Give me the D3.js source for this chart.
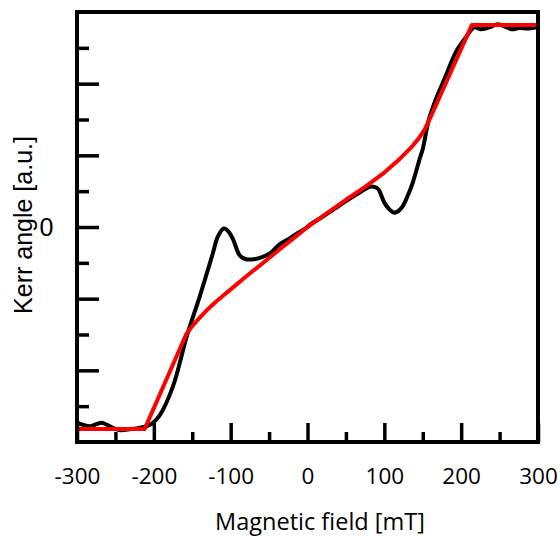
<!DOCTYPE html>
<html>
<head>
<meta charset="utf-8">
<script src="https://cdn.jsdelivr.net/npm/d3@7"></script>
<style>
  body { margin: 0; background: #fff; }
  svg { display: block; }
</style>
</head>
<body>
<script>
// measured Kerr signal (black) and model fit (red), field in mT, Kerr angle in arb. units
var fieldMeasured = [-300, -283, -268, -254, -244, -230, -218, -205, -192, -175, -157, -140, -123, -117, -109, -103, -97, -88, -80, -70, -62, -49, -36, -25, -15, -4, 7, 18, 29, 40, 50, 60, 68, 75, 81, 87, 92, 100, 107, 113, 118, 124, 131, 137, 146, 150, 158, 167, 180, 193, 206, 217, 225, 232, 240, 247, 256, 266, 275, 288, 300];
var kerrMeasured = [-2.73, -2.78, -2.73, -2.80, -2.835, -2.82, -2.80, -2.76, -2.62, -2.22, -1.52, -0.96, -0.36, -0.14, -0.02, -0.06, -0.17, -0.40, -0.45, -0.45, -0.43, -0.37, -0.24, -0.17, -0.10, -0.03, 0.06, 0.13, 0.21, 0.29, 0.36, 0.43, 0.48, 0.53, 0.56, 0.56, 0.53, 0.34, 0.24, 0.20, 0.22, 0.29, 0.45, 0.62, 0.95, 1.09, 1.50, 1.78, 2.11, 2.44, 2.645, 2.785, 2.76, 2.77, 2.80, 2.83, 2.80, 2.76, 2.775, 2.77, 2.79];

var fieldFit = [-300, -212, -158, -152, -145, -138, -130, -120, -110, -100, -80, -60, -36, -15, 0, 25, 50, 75, 100, 120, 135, 145, 152, 158, 214, 300];
var kerrFit = [-2.82, -2.82, -1.50, -1.41, -1.32, -1.24, -1.15, -1.05, -0.96, -0.87, -0.69, -0.52, -0.31, -0.13, 0.00, 0.19, 0.38, 0.56, 0.76, 0.95, 1.11, 1.24, 1.35, 1.48, 2.82, 2.82];

var xMajorTicks = [-300, -200, -100, 0, 100, 200, 300];
var xMinorTicks = [-250, -150, -50, 50, 150, 250];
var yMajorTicks = [-2, -1, 0, 1, 2];
var yMinorTicks = [-2.5, -1.5, -0.5, 0.5, 1.5, 2.5];
var yLabelTicks = [0];

var width = 560;
var height = 536;
var margin = {left: 77, right: 22, top: 12, bottom: 94};
var plotW = width - margin.left - margin.right;
var plotH = height - margin.top - margin.bottom;

var svg = d3.select("body").append("svg")
    .attr("width", width)
    .attr("height", height);

var x = d3.scaleLinear().domain([-300, 300]).range([margin.left, margin.left + plotW]);
var y = d3.scaleLinear().domain([-3, 3]).range([margin.top + plotH, margin.top]);

var measured = fieldMeasured.map(function (h, i) { return [h, kerrMeasured[i]]; });
var fit = fieldFit.map(function (h, i) { return [h, kerrFit[i]]; });

// plain hyphen for negatives, like the original
var plainFormat = function (d) { return String(d); };

// curves first, frame on top
var plot = svg.append("g");

plot.append("path")
    .datum(measured)
    .attr("fill", "none")
    .attr("stroke", "#000")
    .attr("stroke-width", 4)
    .attr("stroke-linejoin", "round")
    .attr("d", d3.line()
        .x(function (d) { return x(d[0]); })
        .y(function (d) { return y(d[1]); })
        .curve(d3.curveCatmullRom.alpha(0.5)));

plot.append("path")
    .datum(fit)
    .attr("fill", "none")
    .attr("stroke", "#ff0000")
    .attr("stroke-width", 4)
    .attr("stroke-linejoin", "round")
    .attr("d", d3.line()
        .x(function (d) { return x(d[0]); })
        .y(function (d) { return y(d[1]); }));

// inward ticks
function styleTicks(g) {
    g.select(".domain").remove();
    g.selectAll(".tick line").attr("stroke", "#000").attr("stroke-width", 3.5);
}

svg.append("g")
    .attr("transform", "translate(0," + (margin.top + plotH) + ")")
    .call(d3.axisBottom(x).tickValues(xMinorTicks).tickSize(-10).tickFormat(""))
    .call(styleTicks);

var xAxis = svg.append("g")
    .attr("transform", "translate(0," + (margin.top + plotH) + ")")
    .call(d3.axisBottom(x).tickValues(xMajorTicks).tickSize(-19).tickFormat(plainFormat))
    .call(styleTicks);

xAxis.selectAll(".tick text")
    .attr("y", 42)
    .attr("dy", 0)
    .attr("fill", "#000")
    .style("font-family", "'Open Sans', sans-serif")
    .style("font-size", "22.5px");

svg.append("g")
    .attr("transform", "translate(" + margin.left + ",0)")
    .call(d3.axisLeft(y).tickValues(yMinorTicks).tickSize(-12).tickFormat(""))
    .call(styleTicks);

svg.append("g")
    .attr("transform", "translate(" + margin.left + ",0)")
    .call(d3.axisLeft(y).tickValues(yMajorTicks).tickSize(-22).tickFormat(""))
    .call(styleTicks);

var yAxisLabels = svg.append("g")
    .attr("transform", "translate(" + margin.left + ",0)")
    .call(d3.axisLeft(y).tickValues(yLabelTicks).tickSize(0).tickFormat(plainFormat));
yAxisLabels.select(".domain").remove();
yAxisLabels.selectAll(".tick text")
    .attr("x", -23.5)
    .attr("fill", "#000")
    .style("font-family", "'Liberation Sans', Arial, sans-serif")
    .style("font-size", "25px");

// frame
svg.append("rect")
    .attr("x", margin.left)
    .attr("y", margin.top)
    .attr("width", plotW)
    .attr("height", plotH)
    .attr("fill", "none")
    .attr("stroke", "#000")
    .attr("stroke-width", 4);

// axis titles
svg.append("text")
    .attr("x", 320)
    .attr("y", 530)
    .attr("text-anchor", "middle")
    .style("font-family", "'Open Sans', sans-serif")
    .style("font-size", "23.5px")
    .text("Magnetic field [mT]");

svg.append("text")
    .attr("transform", "translate(31.5,225) rotate(-90)")
    .attr("text-anchor", "middle")
    .style("font-family", "'Liberation Sans', Arial, sans-serif")
    .style("font-size", "25px")
    .text("Kerr angle [a.u.]");
</script>
</body>
</html>
